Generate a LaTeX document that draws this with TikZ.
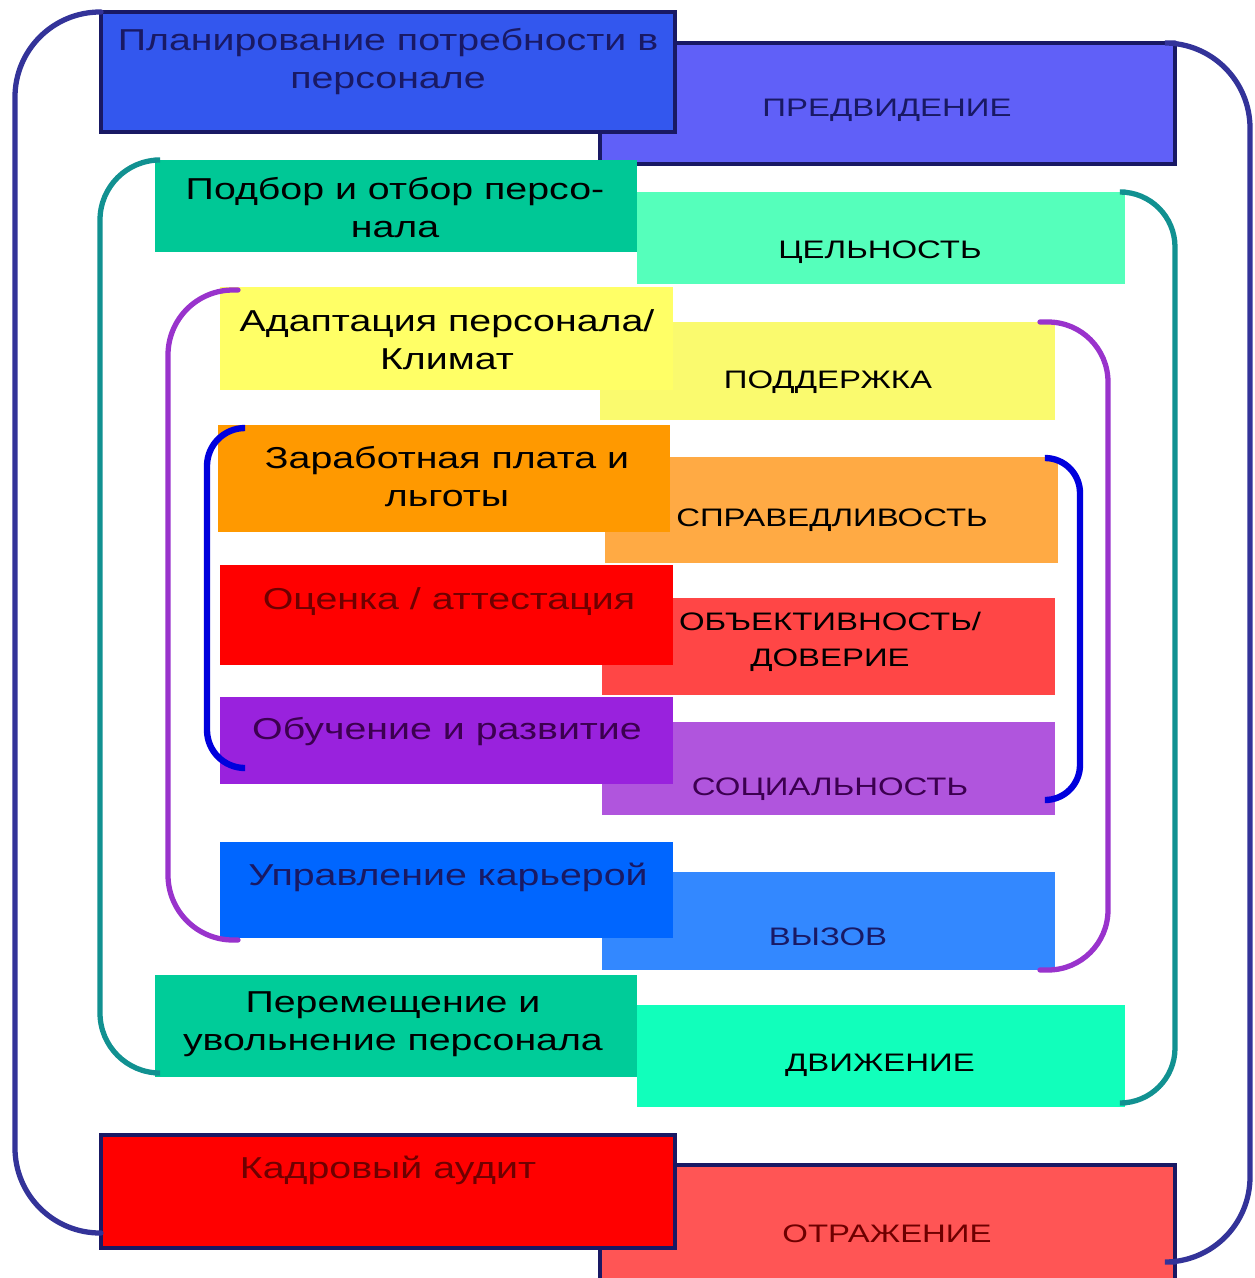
\documentclass[tikz,border=0pt]{standalone}
\usepackage{fontspec}
\setmainfont{Liberation Sans}[FakeStretch=1.3]
\usetikzlibrary{positioning,calc,fit}

\definecolor{navyline}{RGB}{51,51,153}
\definecolor{tealline}{RGB}{17,145,145}
\definecolor{violetline}{RGB}{153,51,204}
\definecolor{blueline}{RGB}{0,0,221}
\definecolor{planfill}{RGB}{51,87,238}
\definecolor{foreseefill}{RGB}{96,96,248}
\definecolor{selectfill}{RGB}{0,200,150}
\definecolor{wholefill}{RGB}{85,255,187}
\definecolor{adaptfill}{RGB}{255,255,102}
\definecolor{supportfill}{RGB}{250,250,110}
\definecolor{salaryfill}{RGB}{255,153,0}
\definecolor{fairfill}{RGB}{255,170,68}
\definecolor{ratefill}{RGB}{255,0,0}
\definecolor{trustfill}{RGB}{255,70,70}
\definecolor{learnfill}{RGB}{153,34,221}
\definecolor{socialfill}{RGB}{176,85,221}
\definecolor{careerfill}{RGB}{0,102,255}
\definecolor{callfill}{RGB}{51,136,255}
\definecolor{movefill}{RGB}{0,204,153}
\definecolor{motionfill}{RGB}{17,255,187}
\definecolor{auditfill}{RGB}{255,0,0}
\definecolor{mirrorfill}{RGB}{255,85,85}
\definecolor{darknavy}{RGB}{25,25,100}
\definecolor{darkred}{RGB}{110,0,0}
\definecolor{darkviolet}{RGB}{60,0,80}

\tikzset{
  box/.style={inner sep=0pt, outer sep=0pt},
  framebox/.style={box, draw=darknavy, line width=1.2pt},
  ltext/.style={align=center, font=\fontsize{8.6}{10.8}\selectfont, inner sep=0pt},
  rtext/.style={align=center, font=\fontsize{7.2}{10.2}\selectfont, inner sep=0pt},
  bracket/.style={line width=1.5pt, line cap=round}
}

\begin{document}
\begin{tikzpicture}[x=0.01cm,y=-0.01cm]
\useasboundingbox (0,0) rectangle (1255,1278);

% right column first, the left boxes lie over it
\node[framebox, fill=foreseefill, fit={(600,43) (1175,164)}] (foresee) {};
\node[box, fill=wholefill, fit={(637,192) (1125,284)}] (whole) {};
\node[box, fill=supportfill, fit={(600,322) (1055,420)}] (support) {};
\node[box, fill=fairfill, fit={(605,457) (1058,563)}] (fair) {};
\node[box, fill=trustfill, fit={(602,598) (1055,695)}] (trust) {};
\node[box, fill=socialfill, fit={(602,722) (1055,815)}] (social) {};
\node[box, fill=callfill, fit={(602,872) (1055,970)}] (call) {};
\node[box, fill=motionfill, fit={(637,1005) (1125,1107)}] (motion) {};
\node[framebox, fill=mirrorfill, fit={(600,1165) (1175,1295)}] (mirror) {};

% left column
\node[framebox, fill=planfill, fit={(101,12) (675,132)}] (plan) {};
\node[box, fill=selectfill, fit={(155,160) (637,252)}] (select) {};
\node[box, fill=adaptfill, fit={(220,287) (673,390)}] (adapt) {};
\node[box, fill=salaryfill, fit={(218,425) (670,532)}] (salary) {};
\node[box, fill=ratefill, fit={(220,565) (673,665)}] (rate) {};
\node[box, fill=learnfill, fit={(220,697) (673,784)}] (learn) {};
\node[box, fill=careerfill, fit={(220,842) (673,938)}] (career) {};
\node[box, fill=movefill, fit={(155,975) (637,1077)}] (move) {};
\node[framebox, fill=auditfill, fit={(101,1135) (675,1248)}] (audit) {};

% labels
\node[ltext, text=darknavy] (plantxt) at (388,62) {Планирование потребности в\\персонале};
\node[ltext] (selecttxt) at (395,208) {Подбор и отбор персо-\\нала};
\node[ltext] (adapttxt) at (447,340) {Адаптация персонала/\\Климат};
\node[ltext] (salarytxt) at (447,477) {Заработная плата и\\льготы};
\node[ltext, text=darkred] (ratetxt) at (449,602) {Оценка / аттестация};
\node[ltext, text=darkviolet] (learntxt) at (447,732) {Обучение и развитие};
\node[ltext, text=darknavy] (careertxt) at (448,877) {Управление карьерой};
\node[ltext] (movetxt) at (393,1024) {Перемещение и\\увольнение персонала};
\node[ltext, text=darkred] (audittxt) at (388,1170) {Кадровый аудит};

\node[rtext, text=darknavy] (foreseetxt) at (887,110) {ПРЕДВИДЕНИЕ};
\node[rtext] (wholetxt) at (880,252) {ЦЕЛЬНОСТЬ};
\node[rtext] (supporttxt) at (828,382) {ПОДДЕРЖКА};
\node[rtext] (fairtxt) at (832,520) {СПРАВЕДЛИВОСТЬ};
\node[rtext] (trusttxt) at (830,642) {ОБЪЕКТИВНОСТЬ/\\ДОВЕРИЕ};
\node[rtext, text=darkviolet] (socialtxt) at (830,789) {СОЦИАЛЬНОСТЬ};
\node[rtext, text=darknavy] (calltxt) at (828,937) {ВЫЗОВ};
\node[rtext] (motiontxt) at (880,1065) {ДВИЖЕНИЕ};
\node[rtext, text=darkred] (mirrortxt) at (887,1234) {ОТРАЖЕНИЕ};

% brackets
\draw[bracket, navyline, rounded corners=0.85cm] (plan.north west) -| (15,600) |- ($(audit.south west)+(0,-15)$);
\draw[bracket, navyline, rounded corners=0.85cm] (foresee.north east) -| (1250,600) |- ($(mirror.north east)+(0,97)$);
\draw[bracket, tealline, rounded corners=0.6cm] (select.north west) -| (100,600) |- ($(move.south west)+(0,-4)$);
\draw[bracket, tealline, rounded corners=0.55cm] (whole.north east) -| (1175,600) |- ($(motion.south east)+(0,-4)$);
\draw[bracket, violetline, rounded corners=0.65cm] ($(adapt.north west)+(18,3)$) -| (168,600) |- ($(career.south west)+(18,2)$);
\draw[bracket, violetline, rounded corners=0.6cm] ($(support.north east)+(-15,0)$) -| (1108,600) |- ($(call.south east)+(-15,0)$);
\draw[bracket, blueline, line width=1.8pt, rounded corners=0.38cm] ($(salary.north west)+(27,3)$) -| (207,600) |- ($(learn.south west)+(25,-16)$);
\draw[bracket, blueline, line width=1.8pt, rounded corners=0.35cm] ($(fair.north east)+(-13,1)$) -| (1080,600) |- ($(social.south east)+(-10,-15)$);
\end{tikzpicture}
\end{document}
